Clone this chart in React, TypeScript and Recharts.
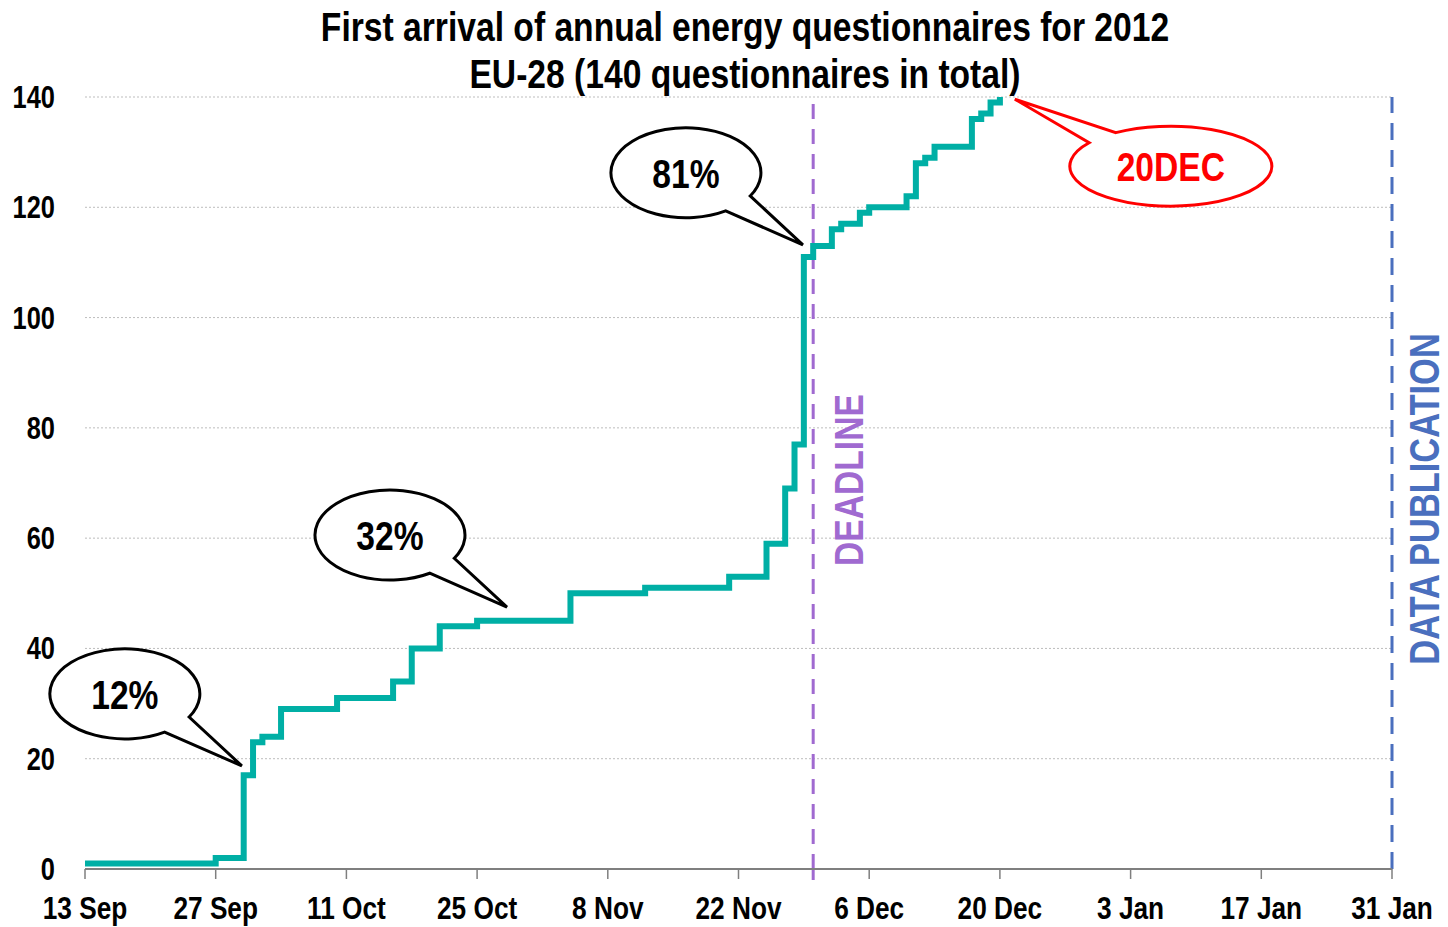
import React from 'react';
import { LineChart, Line, XAxis, YAxis, CartesianGrid, ReferenceLine, ReferenceDot } from 'recharts';

// days counted from 13 Sep 2012, cumulative questionnaires received
const days = [0, 14, 17, 18, 19, 21, 27, 33, 35, 38, 42, 52, 60, 69, 73, 75, 76, 77, 78, 80, 81, 83, 84, 88, 89, 90, 91, 95, 96, 97, 98];
const received = [1, 2, 17, 23, 24, 29, 31, 34, 40, 44, 45, 50, 51, 53, 59, 69, 77, 111, 113, 116, 117, 119, 120, 122, 128, 129, 131, 136, 137, 139, 140];

const tickDays = [0, 14, 28, 42, 56, 70, 84, 98, 112, 126, 140];
const tickLabels = ['13 Sep', '27 Sep', '11 Oct', '25 Oct', '8 Nov', '22 Nov', '6 Dec', '20 Dec', '3 Jan', '17 Jan', '31 Jan'];
const yTicks = [0, 20, 40, 60, 80, 100, 120, 140];

const deadlineDay = 78;
const publicationDay = 140;

// speech bubbles: text and the point the tail touches
const calloutText = ['12%', '32%', '81%', '20DEC'];
const calloutDay = [16.8, 45.2, 76.9, 99.6];
const calloutValue = [18.7, 47.5, 113.2, 139.6];

const FONT = "'Liberation Sans', Arial, sans-serif";
const SQUEEZE = 0.82; // fake Arial Narrow

const chartData = days.map((d, i) => ({ day: d, count: received[i] }));

// bold text squeezed horizontally, optionally rotated
function Narrow({ x, y, children, size, color = '#000', anchor = 'middle', baseline = 'auto', rotate = 0 }: any) {
  return (
    <text
      transform={`translate(${x} ${y}) rotate(${rotate}) scale(${SQUEEZE} 1)`}
      textAnchor={anchor}
      dominantBaseline={baseline}
      fill={color}
      style={{ fontFamily: FONT, fontWeight: 'bold', fontSize: size }}
    >
      {children}
    </text>
  );
}

const XTick = (props: any) => {
  const { x, y, payload } = props;
  return <Narrow x={x} y={y + 23} size={32}>{tickLabels[tickDays.indexOf(payload.value)]}</Narrow>;
};

const YTick = (props: any) => {
  const { x, y, payload } = props;
  return <Narrow x={x} y={y} size={31} anchor="end" baseline="central">{payload.value}</Narrow>;
};

function Bubble(props: any) {
  const { cx, cy, text } = props;
  const red = text === '20DEC';
  const s = red
    ? { dx: 156, dy: 67, rx: 101, ry: 40, a1: 216, a2: 237 }
    : { dx: -117, dy: -72, rx: 75, ry: 45, a1: 31, a2: 58 };
  const ex = cx + s.dx;
  const ey = cy + s.dy;
  const pt = (a: number) => [ex + s.rx * Math.cos((a * Math.PI) / 180), ey + s.ry * Math.sin((a * Math.PI) / 180)];
  const [x1, y1] = pt(s.a1);
  const [x2, y2] = pt(s.a2);
  const d = `M${x1},${y1} A${s.rx},${s.ry} 0 1 0 ${x2},${y2} L${cx},${cy} Z`;
  const color = red ? '#ff0000' : '#000';
  return (
    <g>
      <path d={d} fill="#fff" stroke={color} strokeWidth={3} />
      <Narrow x={ex} y={ey + 1} size={41} color={color} baseline="central">{text}</Narrow>
    </g>
  );
}

const vLabel = (text: string, color: string, dx: number, dy: number, size: number) => (props: any) => {
  const vb = props.viewBox || {};
  return (
    <Narrow x={vb.x + dx} y={vb.y + vb.height / 2 + dy} size={size} color={color} baseline="central" rotate={-90}>
      {text}
    </Narrow>
  );
};

export default function App() {
  return (
    <div style={{ position: 'absolute', left: 0, top: 0, width: 1448, height: 927, background: '#fff' }}>
      <div style={{ position: 'absolute', left: 0, width: 1490, top: 4, textAlign: 'center', fontFamily: FONT, fontWeight: 'bold', fontSize: 41, lineHeight: '47px', color: '#000', transform: `scaleX(${SQUEEZE})`, transformOrigin: '745px 0' }}>
        First arrival of annual energy questionnaires for 2012
        <br />
        EU-28 (140 questionnaires in total)
      </div>
      <LineChart width={1448} height={927} data={chartData} margin={{ top: 97, right: 56, bottom: 0, left: 0 }}>
        <CartesianGrid vertical={false} stroke="#bdbdbd" strokeDasharray="2 2" />
        <XAxis
          dataKey="day"
          type="number"
          domain={[0, 140]}
          ticks={tickDays}
          height={58}
          axisLine={{ stroke: '#7f7f7f', strokeWidth: 2 }}
          tickLine={{ stroke: '#7f7f7f', strokeWidth: 1.5 }}
          tickSize={10}
          tickMargin={17}
          tick={<XTick />}
          interval={0}
        />
        <YAxis
          type="number"
          domain={[0, 140]}
          ticks={yTicks}
          width={85}
          axisLine={false}
          tickLine={false}
          tickSize={0}
          tickMargin={30}
          tick={<YTick />}
          interval={0}
        />
        <ReferenceLine x={deadlineDay} stroke="#a06ad0" strokeWidth={3} strokeDasharray="15 10"
          label={vLabel('DEADLINE', '#a06ad0', 36, -3, 41)} />
        <ReferenceLine segment={[{ x: deadlineDay, y: -2 }, { x: deadlineDay, y: 0 }]} ifOverflow="visible"
          stroke="#a06ad0" strokeWidth={3} />
        <ReferenceLine x={publicationDay} stroke="#4a6fbe" strokeWidth={3} strokeDasharray="17 10"
          label={vLabel('DATA PUBLICATION', '#4a6fbe', 32, 16, 42)} />
        <Line
          type="stepAfter"
          dataKey="count"
          stroke="#00afa5"
          strokeWidth={6}
          dot={false}
          activeDot={false}
          isAnimationActive={false}
        />
        {calloutText.map((t, i) => (
          <ReferenceDot key={t} x={calloutDay[i]} y={calloutValue[i]} ifOverflow="visible"
            shape={(p: any) => <Bubble {...p} text={t} />} />
        ))}
      </LineChart>
    </div>
  );
}
